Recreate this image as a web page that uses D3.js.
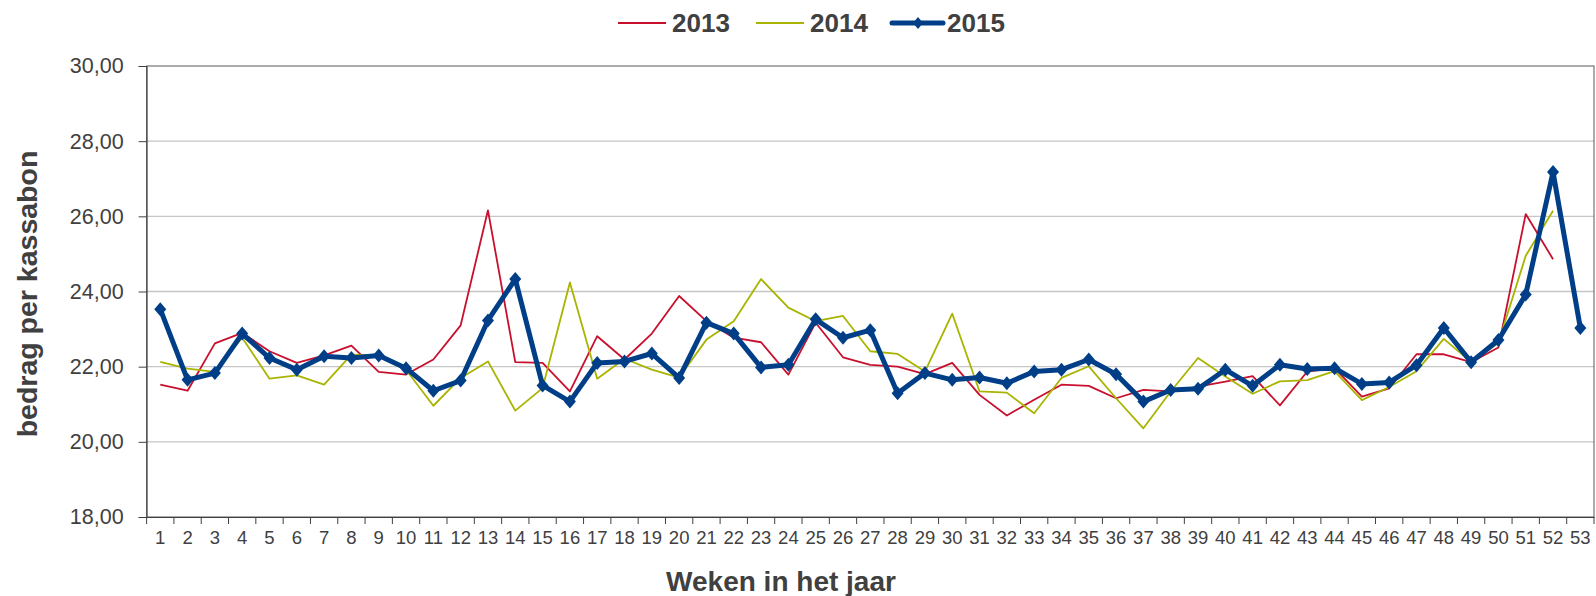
<!DOCTYPE html>
<html>
<head>
<meta charset="utf-8">
<script src="https://cdn.jsdelivr.net/npm/d3@7"></script>
<style>
  body { margin: 0; background: #fff; }
  text { font-family: "Liberation Sans", Arial, sans-serif; fill: #404040; }
</style>
</head>
<body>
<svg id="chart" width="1596" height="596"></svg>
<script>
"use strict";

// weeks 1..53
const weeks = d3.range(1, 54);

const values2013 = [21.52, 21.36, 22.62, 22.90, 22.41, 22.10, 22.30, 22.56, 21.86, 21.79,
  22.19, 23.10, 26.16, 22.12, 22.10, 21.34, 22.81, 22.19, 22.88, 23.88,
  23.21, 22.77, 22.65, 21.79, 23.17, 22.25, 22.05, 22.00, 21.80, 22.10,
  21.25, 20.70, 21.12, 21.52, 21.49, 21.16, 21.38, 21.34, 21.47, 21.60,
  21.75, 20.97, 21.87, 21.96, 21.20, 21.42, 22.33, 22.33, 22.12, 22.51,
  26.06, 24.86, null];

const values2014 = [22.13, 21.95, 21.86, 22.77, 21.68, 21.77, 21.52, 22.32, 22.30, 21.92,
  20.96, 21.70, 22.14, 20.83, 21.43, 24.24, 21.68, 22.21, 21.92, 21.71,
  22.72, 23.21, 24.33, 23.57, 23.21, 23.35, 22.41, 22.34, 21.87, 23.41,
  21.34, 21.31, 20.76, 21.70, 22.01, 21.16, 20.36, 21.34, 22.23, 21.74,
  21.28, 21.61, 21.64, 21.88, 21.11, 21.46, 21.88, 22.74, 22.12, 22.63,
  24.95, 26.15, null];

const values2015 = [23.53, 21.65, 21.83, 22.88, 22.23, 21.92, 22.28, 22.23, 22.30, 21.96,
  21.36, 21.63, 23.23, 24.33, 21.50, 21.07, 22.10, 22.14, 22.35, 21.70,
  23.17, 22.88, 21.98, 22.05, 23.26, 22.77, 22.97, 21.29, 21.83, 21.65,
  21.71, 21.56, 21.87, 21.92, 22.19, 21.80, 21.07, 21.38, 21.41, 21.92,
  21.49, 22.05, 21.94, 21.96, 21.54, 21.58, 22.04, 23.03, 22.12, 22.71,
  23.92, 27.18, 23.03];

const yTicks = [18, 20, 22, 24, 26, 28, 30];

const series = [
  {name: "2013", values: values2013, color: "#c8102e", width: 1.8, markers: false},
  {name: "2014", values: values2014, color: "#a8b400", width: 1.8, markers: false},
  {name: "2015", values: values2015, color: "#003f87", width: 5, markers: true}
];

const margin = {top: 66, right: 2, bottom: 79, left: 146.6};
const width = 1596, height = 596;

let svg = d3.select("#chart");

let x = d3.scaleBand()
    .domain(weeks)
    .range([margin.left, width - margin.right]);

let y = d3.scaleLinear()
    .domain([18, 30])
    .range([height - margin.bottom, margin.top]);

const nl = d3.formatLocale({decimal: ",", thousands: ".", grouping: [3], currency: ["€", ""]});
const fmt = nl.format(".2f");

// gridlines
svg.append("g")
  .selectAll("line")
  .data(yTicks.filter(d => d !== 18 && d !== 30))
  .join("line")
    .attr("x1", margin.left)
    .attr("x2", width - margin.right)
    .attr("y1", d => y(d))
    .attr("y2", d => y(d))
    .attr("stroke", "#c6c6c6")
    .attr("stroke-width", 1.3);

// plot border (top / right)
svg.append("rect")
  .attr("x", margin.left)
  .attr("y", margin.top)
  .attr("width", width - margin.right - margin.left)
  .attr("height", height - margin.bottom - margin.top)
  .attr("fill", "none")
  .attr("stroke", "#595959")
  .attr("stroke-width", 1);

// y axis
let yAxis = svg.append("g")
  .attr("transform", `translate(${margin.left},0)`)
  .call(d3.axisLeft(y).tickValues(yTicks).tickFormat(fmt).tickSize(8).tickPadding(15));
yAxis.select(".domain").attr("stroke", "#404040");
yAxis.selectAll(".tick line").attr("stroke", "#404040");
yAxis.selectAll("text")
  .style("font-size", "21.5px")
  .attr("fill", "#404040")
  .style("font-family", "'Liberation Sans', Arial, sans-serif");

// x axis: ticks between categories
let xAxis = svg.append("g")
  .attr("transform", `translate(0,${height - margin.bottom})`)
  .call(d3.axisBottom(x).tickSize(0).tickPadding(14));
xAxis.select(".domain").attr("stroke", "#404040");
xAxis.selectAll("text")
  .style("font-size", "18.5px")
  .attr("fill", "#404040")
  .style("font-family", "'Liberation Sans', Arial, sans-serif");
xAxis.selectAll(".sep")
  .data(d3.range(0, weeks.length + 1))
  .join("line")
    .attr("class", "sep")
    .attr("x1", i => margin.left + i * x.step())
    .attr("x2", i => margin.left + i * x.step())
    .attr("y1", 0)
    .attr("y2", 7)
    .attr("stroke", "#404040");

// lines
let line = d3.line()
    .defined(d => d.v !== null)
    .x(d => x(d.w) + x.bandwidth() / 2)
    .y(d => y(d.v));

for (let s of series) {
  let pts = weeks.map((w, i) => ({w: w, v: s.values[i]}));
  svg.append("path")
    .datum(pts)
    .attr("fill", "none")
    .attr("stroke", s.color)
    .attr("stroke-width", s.width)
    .attr("stroke-linejoin", "round")
    .attr("d", line);
  if (s.markers) {
    svg.append("g")
      .selectAll("path")
      .data(pts.filter(d => d.v !== null))
      .join("path")
        .attr("d", "M0,-7L6,0L0,7L-6,0Z")
        .attr("transform", d => `translate(${x(d.w) + x.bandwidth() / 2},${y(d.v)})`)
        .attr("fill", s.color);
  }
}

// legend
const legendPos = [618, 756, 892];
let legend = svg.append("g");
series.forEach((s, i) => {
  let lx = legendPos[i];
  let g = legend.append("g").attr("transform", `translate(${lx},23)`);
  g.append("line")
    .attr("x1", 0).attr("x2", s.markers ? 51 : 48)
    .attr("stroke", s.color)
    .attr("stroke-width", s.width)
    .attr("stroke-linecap", s.markers ? "round" : "butt");
  if (s.markers) {
    g.append("path").attr("d", "M0,-6L5,0L0,6L-5,0Z")
      .attr("transform", "translate(26,0)")
      .attr("fill", s.color);
  }
  g.append("text")
    .attr("x", s.markers ? 55 : 54)
    .attr("y", 9)
    .style("font-size", "26px")
    .style("font-weight", "bold")
    .attr("fill", "#333")
    .text(s.name);
});

// axis titles
svg.append("text")
  .attr("x", 781)
  .attr("y", 591)
  .attr("text-anchor", "middle")
  .style("font-size", "28px")
  .style("font-weight", "bold")
  .attr("fill", "#333")
  .text("Weken in het jaar");

svg.append("text")
  .attr("transform", "translate(37,294) rotate(-90)")
  .attr("text-anchor", "middle")
  .style("font-size", "28.5px")
  .style("font-weight", "bold")
  .attr("fill", "#333")
  .text("bedrag per kassabon");
</script>
</body>
</html>
